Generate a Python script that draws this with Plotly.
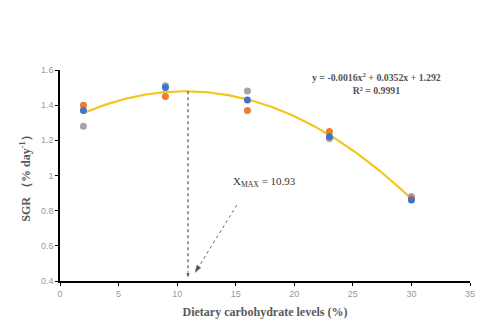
import numpy as np
import plotly.graph_objects as go

levels = [2, 9, 16, 23, 30]
sgr_blue = [1.37, 1.50, 1.43, 1.22, 0.86]
sgr_orange = [1.40, 1.45, 1.37, 1.25, 0.87]
sgr_gray = [1.28, 1.51, 1.48, 1.21, 0.88]
x_max = 10.93
eq_text = "y = -0.0016x<sup>2</sup> + 0.0352x + 1.292"
r2_text = "R² = 0.9991"
xmax_label = "X<sub>MAX</sub> = 10.93"
x_ticks = [0, 5, 10, 15, 20, 25, 30, 35]
y_ticks = [0.4, 0.6, 0.8, 1, 1.2, 1.4, 1.6]

# quadratic trendline fitted to all points
all_x = np.array(levels * 3, dtype=float)
all_y = np.array(sgr_blue + sgr_orange + sgr_gray)
coef = np.polyfit(all_x, all_y, 2)
xs = np.linspace(min(levels), max(levels), 200)
ys = np.polyval(coef, xs)
y_peak = float(np.polyval(coef, x_max))

fig = go.Figure()
fig.add_trace(go.Scatter(x=xs, y=ys, mode="lines",
                         line=dict(color="#F4C51C", width=2.2), hoverinfo="skip"))
for vals, col in [(sgr_gray, "#A5A5A5"), (sgr_orange, "#ED7D31"), (sgr_blue, "#4472C4")]:
    fig.add_trace(go.Scatter(x=levels, y=vals, mode="markers",
                             marker=dict(color=col, size=7)))

# vertical dashed line with arrow
fig.add_trace(go.Scatter(x=[x_max, x_max], y=[y_peak, 0.41], mode="lines+markers",
                         line=dict(color="black", width=0.8, dash="dot"),
                         marker=dict(symbol=["circle", "arrow"], size=[0, 7],
                                     color="black", angleref="previous")))
# diagonal dashed arrow
fig.add_trace(go.Scatter(x=[15.1, 11.55], y=[0.832, 0.45], mode="lines+markers",
                         line=dict(color="#444444", width=0.8, dash="dot"),
                         marker=dict(symbol=["circle", "arrow"], size=[0, 7],
                                     color="black", angleref="previous")))

fig.add_annotation(x=14.6, y=0.965, xref="x", yref="y", text=xmax_label,
                   showarrow=False, xanchor="left",
                   font=dict(family="Liberation Serif", size=11, color="#333333"))
fig.add_annotation(x=0.771, y=1.005, xref="paper", yref="paper",
                   text="<b>" + eq_text + "<br>" + r2_text + "</b>",
                   showarrow=False, align="center", xanchor="center", yanchor="top",
                   font=dict(family="Liberation Serif", size=9.8, color="#555555"))

fig.update_layout(
    width=493, height=329, showlegend=False,
    margin=dict(l=60, r=23, t=70, b=48),
    paper_bgcolor="white", plot_bgcolor="white",
    xaxis=dict(range=[0, 35], tickvals=x_ticks, showgrid=False, zeroline=False,
               showline=True, linecolor="black", linewidth=1.5,
               ticks="outside", ticklen=3, tickcolor="black",
               tickfont=dict(family="Liberation Sans", size=9, color="#999999"),
               title=dict(text="<b>Dietary carbohydrate levels (%)</b>",
                          font=dict(family="Liberation Serif", size=12, color="#595959"),
                          standoff=10)),
    yaxis=dict(range=[0.4, 1.6], tickvals=y_ticks, ticktext=[str(v) for v in y_ticks],
               showgrid=False, zeroline=False,
               showline=True, linecolor="black", linewidth=1.5,
               ticks="outside", ticklen=3, tickcolor="black",
               tickfont=dict(family="Liberation Sans", size=9, color="#999999"),
               title=dict(text="<b>SGR （% day<sup>-1</sup>）</b>",
                          font=dict(family="Liberation Serif", size=12, color="#595959"),
                          standoff=8)),
)
fig.write_html("out.html")
